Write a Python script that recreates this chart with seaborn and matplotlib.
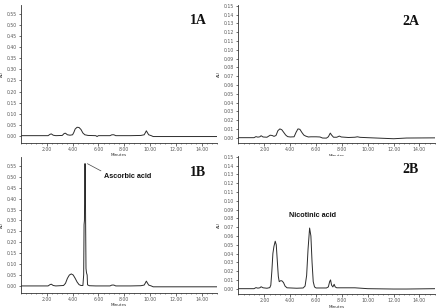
import matplotlib
matplotlib.use('Agg')
import matplotlib.pyplot as plt
import seaborn as sns
from matplotlib import font_manager
from matplotlib.ticker import MultipleLocator, FormatStrFormatter

# Chromatogram 1A (sample, vitamin C method)
t_1a = [0.0, 2.1, 2.25, 2.35, 2.5, 2.7, 3.2, 3.35, 3.45, 3.6, 3.8, 4.0, 4.1, 4.2, 4.35, 4.5,
        4.65, 4.8, 4.95, 5.2, 5.8, 5.9, 6.0, 6.9, 7.05, 7.2, 7.35, 8.5, 9.3, 9.55, 9.65, 9.72,
        9.8, 9.9, 10.1, 10.25, 15.2]
au_1a = [0.0, 0.0, 0.006, 0.008, 0.002, 0.0, 0.001, 0.010, 0.011, 0.004, 0.002, 0.004, 0.015,
         0.030, 0.038, 0.037, 0.028, 0.012, 0.004, 0.001, 0.0, -0.004, 0.0, 0.0, 0.004, 0.004,
         0.0, 0.0, 0.001, 0.004, 0.014, 0.022, 0.014, 0.004, 0.0, -0.004, -0.004]

# Chromatogram 1B (spiked with ascorbic acid)
t_1b = [0.0, 2.1, 2.25, 2.35, 2.5, 2.7, 3.3, 3.45, 3.6, 3.75, 3.9, 4.05, 4.2, 4.35, 4.5, 4.65,
        4.8, 4.86, 4.89, 4.92, 4.95, 4.98, 5.01, 5.04, 5.08, 5.13, 5.16, 5.3, 5.8, 6.9, 7.05,
        7.2, 7.35, 8.5, 9.3, 9.55, 9.65, 9.72, 9.8, 9.9, 10.1, 10.25, 15.2]
au_1b = [0.0, 0.0, 0.006, 0.008, 0.002, 0.0, 0.002, 0.012, 0.035, 0.050, 0.055, 0.050, 0.035,
         0.018, 0.006, 0.002, 0.002, 0.05, 0.28, 0.30, 0.56, 0.56, 0.30, 0.08, 0.06, 0.05,
         0.005, 0.001, 0.0, 0.0, 0.004, 0.004, 0.0, 0.0, 0.001, 0.004, 0.014, 0.022, 0.014,
         0.004, 0.0, -0.004, -0.004]

# Chromatogram 2A (sample, niacin method)
t_2a = [0.0, 1.2, 1.35, 1.5, 1.65, 1.75, 1.9, 2.2, 2.45, 2.6, 2.75, 2.9, 3.05, 3.2, 3.35, 3.5,
        3.65, 3.8, 4.0, 4.3, 4.45, 4.6, 4.75, 4.9, 5.05, 5.2, 5.4, 5.6, 6.0, 6.3, 6.5, 6.8,
        6.95, 7.1, 7.2, 7.35, 7.6, 7.8, 7.95, 8.5, 9.0, 9.2, 9.4, 10.0, 11.0, 12.0, 13.0, 15.2]
au_2a = [0.0, 0.0, 0.0012, 0.0006, 0.0010, 0.0022, 0.0008, 0.0005, 0.0028, 0.0025, 0.0015,
         0.0025, 0.0080, 0.0100, 0.0090, 0.0060, 0.0030, 0.0012, 0.0008, 0.0010, 0.0060,
         0.0100, 0.0095, 0.0060, 0.0030, 0.0018, 0.0008, 0.0010, 0.0010, 0.0008, -0.0004,
         -0.0005, 0.0010, 0.0052, 0.0030, 0.0005, 0.0005, 0.0018, 0.0008, 0.0002, 0.0005,
         0.0010, 0.0004, 0.0, -0.0006, -0.0012, -0.0004, -0.0002]

# Chromatogram 2B (spiked with nicotinic acid)
t_2b = [0.0, 1.2, 1.35, 1.5, 1.65, 1.75, 1.9, 2.2, 2.42, 2.5, 2.58, 2.66, 2.74, 2.84, 2.92,
        3.0, 3.08, 3.15, 3.25, 3.35, 3.48, 3.6, 3.75, 4.5, 5.0, 5.15, 5.27, 5.38, 5.5, 5.6,
        5.69, 5.78, 5.88, 6.0, 6.8, 6.95, 7.05, 7.12, 7.2, 7.3, 7.4, 7.48, 7.6, 9.0, 10.0,
        12.0, 13.0, 15.2]
au_2b = [0.0, 0.0, 0.0012, 0.0006, 0.0010, 0.0022, 0.0010, 0.0005, 0.0012, 0.004, 0.020,
         0.040, 0.048, 0.054, 0.050, 0.032, 0.014, 0.008, 0.009, 0.009, 0.007, 0.003, 0.001,
         0.0005, 0.0008, 0.003, 0.015, 0.045, 0.069, 0.060, 0.030, 0.008, 0.002, 0.0008,
         0.0008, 0.002, 0.008, 0.010, 0.004, 0.002, 0.005, 0.002, 0.001, 0.001, 0.0, -0.0004,
         -0.0004, 0.0]

panel_names = ['1A', '2A', '1B', '2B']
peak_names = {'1B': 'Ascorbic acid', '2B': 'Nicotinic acid'}

sns.set_style('ticks')

try:
    font_manager.findfont('Liberation Sans Narrow', fallback_to_default=False)
    narrow_font, narrow_size = 'Liberation Sans Narrow', 6
except ValueError:
    narrow_font, narrow_size = 'Liberation Sans', 5.2

W, H = 438, 308
fig = plt.figure(figsize=(W / 100, H / 100), dpi=100)
fig.patch.set_facecolor('white')


def px_axes(left, top, right, bottom):
    return fig.add_axes([left / W, 1 - bottom / H, (right - left) / W, (bottom - top) / H])


# axes boxes in pixels: left, top, right, bottom
boxes = {
    '1A': (21, 5, 217, 142.5),
    '2A': (238.5, 5, 435, 143.3),
    '1B': (21, 156.7, 217, 292.7),
    '2B': (238.5, 156, 435, 294.3),
}
# panel tag position in axes fraction
tag_pos = {'1A': (0.903, 0.886), '2A': (0.875, 0.879), '1B': (0.903, 0.882), '2B': (0.875, 0.899)}
traces = {'1A': (t_1a, au_1a), '2A': (t_2a, au_2a), '1B': (t_1b, au_1b), '2B': (t_2b, au_2b)}

for name in panel_names:
    ax = px_axes(*boxes[name])
    t, au = traces[name]
    sns.lineplot(x=t, y=au, ax=ax, color='#2b2b2b', linewidth=0.7, estimator=None, sort=False)
    if name.startswith('1'):
        ax.set_ylim(-0.031, 0.592)
        ax.yaxis.set_major_locator(MultipleLocator(0.05))
    else:
        ax.set_ylim(-0.0064, 0.151)
        ax.yaxis.set_major_locator(MultipleLocator(0.01))
    ax.set_xticks([2, 4, 6, 8, 10, 12, 14])
    ax.xaxis.set_minor_locator(MultipleLocator(0.4))
    ax.xaxis.set_major_formatter(FormatStrFormatter('%.2f'))
    ax.yaxis.set_major_formatter(FormatStrFormatter('%.2f'))
    ax.set_xlim(0, 15.2)
    sns.despine(ax=ax)
    for s in ('left', 'bottom'):
        ax.spines[s].set_linewidth(0.6)
        ax.spines[s].set_color('#333333')
    ax.tick_params(which='major', length=1.8, width=0.5, pad=1.2, labelsize=3.3,
                   colors='#333333', labelcolor='#555555')
    ax.tick_params(which='minor', length=1.0, width=0.4, colors='#333333')
    ax.set_xlabel('Minutes', fontsize=3, labelpad=1, color='#333333')
    ax.set_ylabel('AU', fontsize=3, labelpad=2, color='#333333')
    tx, ty = tag_pos[name]
    ax.text(tx, ty, name, transform=ax.transAxes, ha='center', va='center',
            fontsize=10, fontweight='bold', family='Liberation Serif', color='#111111')
    if name == '1B':
        ax.plot([5.15, 6.2], [0.56, 0.527], color='#444444', linewidth=0.5)
        ax.text(6.45, 0.501, peak_names[name], ha='left', va='center', fontsize=narrow_size,
                fontweight='bold', family=narrow_font, color='#111111')
    elif name == '2B':
        ax.text(3.94, 0.0833, peak_names[name], ha='left', va='center', fontsize=narrow_size,
                fontweight='bold', family=narrow_font, color='#111111')

fig.savefig('out.png', dpi=100, facecolor='white')
